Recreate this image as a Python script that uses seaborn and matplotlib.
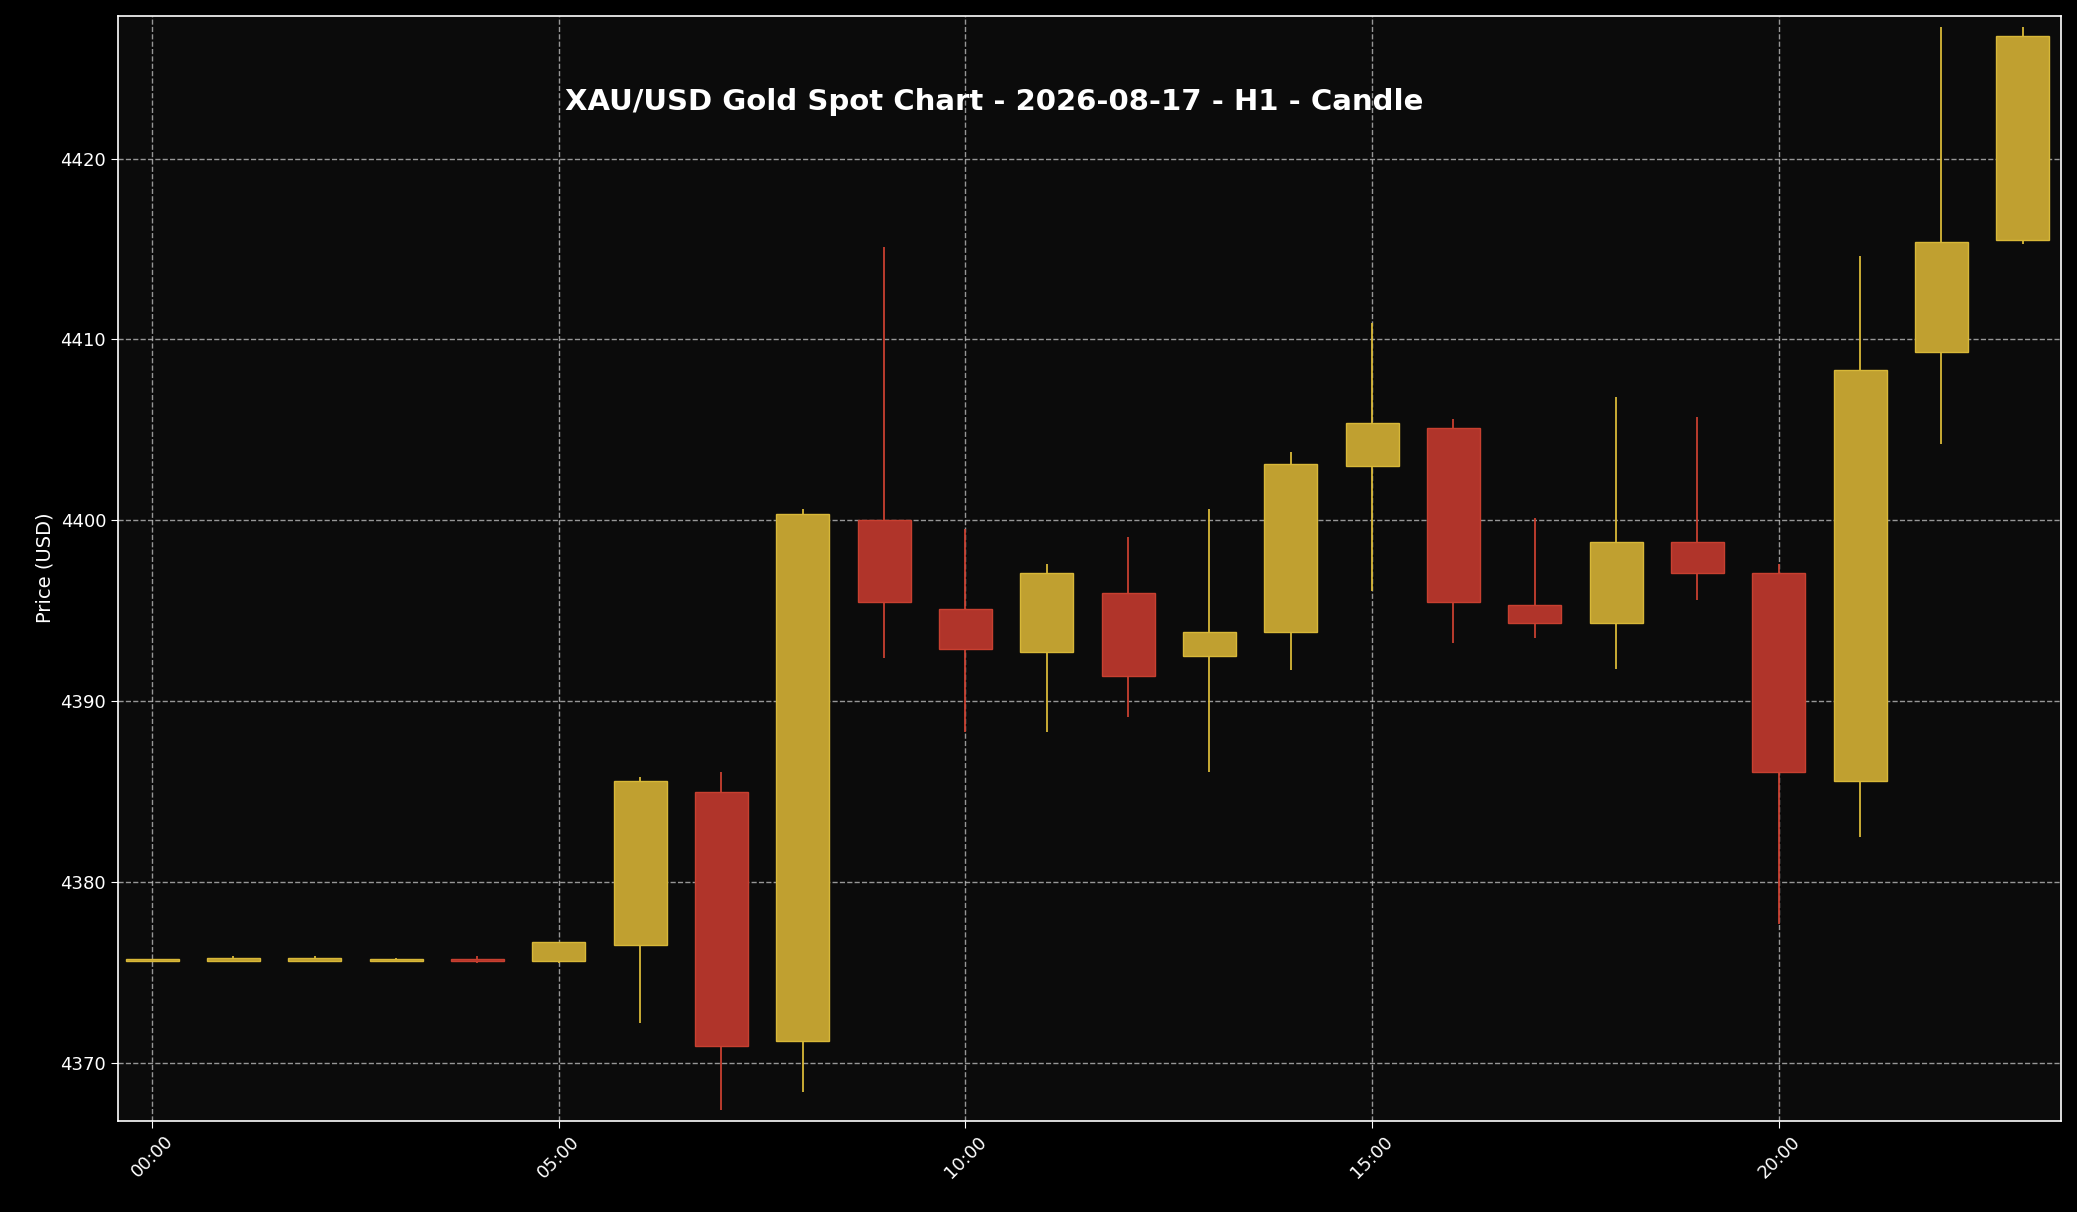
import matplotlib
matplotlib.use("Agg")
import matplotlib.pyplot as plt
import seaborn as sns
import numpy as np

hours = list(range(24))
opens  = [4375.6,4375.6,4375.6,4375.6,4375.7,4375.6,4376.5,4385.0,4371.2,4400.0,4395.1,4392.7,4396.0,4392.5,4393.8,4403.0,4405.1,4395.3,4394.3,4398.8,4397.1,4385.6,4409.3,4415.5]
highs  = [4375.7,4375.9,4375.9,4375.8,4375.9,4376.7,4385.8,4386.1,4400.6,4415.1,4399.5,4397.6,4399.1,4400.6,4403.8,4410.9,4405.6,4400.1,4406.8,4405.7,4397.6,4414.6,4427.3,4427.3]
lows   = [4375.6,4375.6,4375.6,4375.6,4375.5,4375.5,4372.2,4367.4,4368.4,4392.4,4388.3,4388.3,4389.1,4386.1,4391.7,4396.1,4393.2,4393.5,4391.8,4395.6,4377.7,4382.5,4404.2,4415.3]
closes = [4375.7,4375.8,4375.8,4375.7,4375.6,4376.7,4385.6,4370.9,4400.35,4395.5,4392.9,4397.1,4391.4,4393.8,4403.1,4405.4,4395.5,4394.3,4398.8,4397.1,4386.1,4408.3,4415.4,4426.8]
tick_hours = [0,5,10,15,20]
tick_labels = ["00:00","05:00","10:00","15:00","20:00"]

sns.set_style("dark")
plt.rcParams['font.family'] = ['DejaVu Sans']
fig = plt.figure(figsize=(20.77,12.12), dpi=100, facecolor='black')
ax = fig.add_axes([0.0568,0.0754,0.9355,0.9116])
ax.set_facecolor('#0b0b0b')

up_c, up_e = '#c0a030', '#d8b838'
dn_c, dn_e = '#b0342a', '#c84030'
for h,o,hi,lo,c in zip(hours,opens,highs,lows,closes):
    up = c >= o
    fc = up_c if up else dn_c
    ec = up_e if up else dn_e
    ax.vlines(h, lo, hi, color=ec, linewidth=1.3, zorder=2)
    body = max(abs(c-o), 0.12)
    ax.bar(h, body, bottom=min(o,c), width=0.65, color=fc, edgecolor=ec, linewidth=1, zorder=3)

ax.set_xlim(-0.42, 23.47)
ax.set_ylim(4366.8, 4427.9)
ax.set_xticks(tick_hours)
ax.set_xticklabels(tick_labels, rotation=45, color='white', fontsize=13)
ax.set_yticks([4370,4380,4390,4400,4410,4420])
ax.tick_params(axis='y', colors='white', labelsize=13)
ax.tick_params(axis='x', colors='white')
ax.tick_params(length=5, color='white', bottom=True, left=True)
ax.grid(True, color='#bbbbbb', linestyle='--', linewidth=1, alpha=0.8)
ax.set_axisbelow(True)
for s in ax.spines.values():
    s.set_color('white'); s.set_visible(True); s.set_linewidth(1.2)
ax.set_ylabel("Price (USD)", color='white', fontsize=14)
ax.text(0.451, 0.922, "XAU/USD Gold Spot Chart - 2026-08-17 - H1 - Candle", transform=ax.transAxes,
        ha='center', va='center', color='white', fontsize=21, fontweight='bold')
fig.savefig("out.png", facecolor='black')
